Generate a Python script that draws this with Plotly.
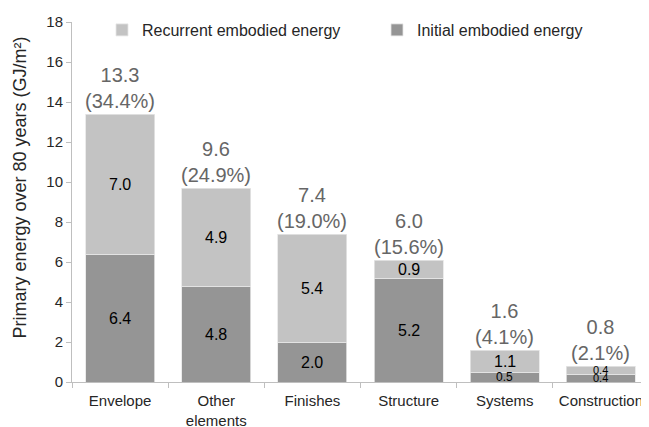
import plotly.graph_objects as go

categories = ["Envelope", "Other<br>elements", "Finishes", "Structure", "Systems", "Construction"]
initial = [6.4, 4.8, 2.0, 5.2, 0.5, 0.4]
recurrent = [7.0, 4.9, 5.4, 0.9, 1.1, 0.4]
totals = [13.3, 9.6, 7.4, 6.0, 1.6, 0.8]
shares = [34.4, 24.9, 19.0, 15.6, 4.1, 2.1]
initial_font = [16, 16, 16, 16, 12, 11]
recurrent_font = [16, 16, 16, 16, 16, 11]

FONT = "Liberation Sans, Arial, sans-serif"
C_INIT = "#959595"
C_REC = "#c3c3c3"

fig = go.Figure()
fig.add_trace(go.Bar(x=categories, y=initial, name="Initial embodied energy", legend="legend2",
                     marker=dict(color=C_INIT, line=dict(color="#e6e6e6", width=0.8))))
fig.add_trace(go.Bar(x=categories, y=recurrent, name="Recurrent embodied energy", legend="legend",
                     marker=dict(color=C_REC, line=dict(color="#e6e6e6", width=0.8))))

ann = []
for i, c in enumerate(categories):
    ann.append(dict(x=c, y=initial[i] / 2, text=f"{initial[i]:.1f}", showarrow=False,
                    font=dict(family=FONT, size=initial_font[i], color="#000000"),
                    yanchor="middle"))
    ann.append(dict(x=c, y=initial[i] + recurrent[i] / 2, text=f"{recurrent[i]:.1f}", showarrow=False,
                    font=dict(family=FONT, size=recurrent_font[i], color="#000000"),
                    yanchor="middle"))
    ann.append(dict(x=c, y=initial[i] + recurrent[i], text=f"{totals[i]:.1f}<br>({shares[i]:.1f}%)",
                    showarrow=False, yanchor="bottom", yshift=0,
                    font=dict(family=FONT, size=20, color="#666666")))

ann.append(dict(xref="paper", yref="paper", x=0, y=0.54, xshift=-52, xanchor="center", yanchor="middle",
                text="Primary energy over 80 years (GJ/m²)", textangle=-90, showarrow=False,
                font=dict(family=FONT, size=18, color="#262626")))

leg_common = dict(orientation="h", y=1.025, xanchor="left", yanchor="top",
                  font=dict(family=FONT, size=16, color="#262626"), bgcolor="rgba(0,0,0,0)")

fig.update_layout(
    width=641, height=419,
    margin=dict(l=64, r=0, t=14, b=45),
    paper_bgcolor="white", plot_bgcolor="white",
    barmode="stack", bargap=0.283,
    font=dict(family=FONT, size=16, color="#262626"),
    showlegend=True,
    legend=dict(x=0.052, **leg_common),
    legend2=dict(x=0.5286, **leg_common),
    annotations=ann,
    xaxis=dict(showline=True, linecolor="#bfbfbf", linewidth=1, ticks="outside",
               tickson="boundaries", ticklen=5, tickcolor="#bfbfbf", automargin=False,
               tickangle=0,
               tickfont=dict(family=FONT, size=15, color="#262626"), ticklabelstandoff=5),
    yaxis=dict(range=[0, 18], dtick=2, showgrid=False, zeroline=False, showline=True,
               linecolor="#bfbfbf", linewidth=1, ticks="outside", ticklen=5, tickcolor="#bfbfbf",
               automargin=False,
               tickfont=dict(family=FONT, size=15, color="#262626")),
)

fig.write_html("out.html")
